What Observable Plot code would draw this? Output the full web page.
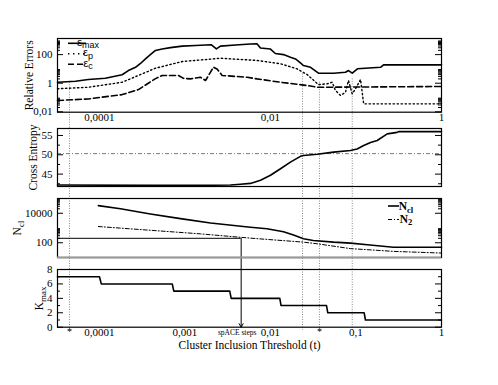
<!DOCTYPE html>
<html><head><meta charset="utf-8">
<script src="https://cdn.jsdelivr.net/npm/d3@7"></script>
<script src="https://cdn.jsdelivr.net/npm/@observablehq/plot@0.6"></script>
<style>
html,body{margin:0;padding:0;background:#fff;}
#chart{position:relative;width:498px;height:385px;background:#fff;overflow:hidden;}
#chart svg{position:absolute;left:0;overflow:visible;background:transparent;}
</style></head><body><div id="chart"></div>
<script>
// ---------- data ----------
const tDomain = [3.23e-5, 1];
// Panel 1: relative errors
const emaxT = [3.23e-5,5.24e-5,7.4e-5,1.17e-4,1.84e-4,2.18e-4,2.64e-4,3.02e-4,3.45e-4,3.94e-4,4.52e-4,5.41e-4,6.76e-4,9.3e-4,1.33e-3,1.74e-3,2.04e-3,2.33e-3,2.6e-3,3.9e-3,5.83e-3,6.98e-3,7.64e-3,0.01,0.0114,0.0142,0.0171,0.0196,0.0224,0.0243,0.0294,0.0364,0.0546,0.0753,0.0817,0.0904,0.104,0.194,0.21,1];
const emaxV = [1.17,1.38,1.8,2.2,3.9,7.7,13,24,50,100,195,250,310,390,430,470,480,250,390,470,550,560,290,245,120,100,66,50,26,17.3,13,5,5,5.9,7.7,5,10.2,13,19.3,19.3];
const epT = [3.23e-5,7.4e-5,1.84e-4,2.86e-4,4.52e-4,9.3e-4,1.74e-3,2.6e-3,6.98e-3,0.0131,0.0205,0.0269,0.0364,0.046,0.0527,0.0575,0.0659,0.0753,0.0817,0.0904,0.0986,0.113,0.123,1];
const epV = [0.41,0.52,1.17,3.5,11.2,33,45,56,39,23,10,4,0.8,0.91,1.17,0.31,0.14,0.23,1.55,0.18,0.41,1.82,0.036,0.036];
const ecT = [3.23e-5,7.4e-5,1.84e-4,2.86e-4,3.73e-4,4.52e-4,5.41e-4,8.4e-4,9.6e-4,1.16e-3,1.52e-3,1.74e-3,1.99e-3,2.15e-3,2.37e-3,2.72e-3,5.35e-3,6.98e-3,0.0131,0.0269,0.0352,1];
const ecV = [0.062,0.079,0.16,0.36,1.0,2.1,3.5,3.5,2.2,2.0,2.6,1.55,5.9,13.2,10,3.5,2.6,2.0,1.17,0.69,0.52,0.59];
const errDomain = [0.0094, 1340];
const errMajor = [0.01, 1, 100];
const legend1Labels = ["ε_max", "ε_p", "ε_c"];
// Panel 2: cross entropy
const ceT = [3.23e-5,3.94e-4,1.52e-3,3.4e-3,4.45e-3,5.83e-3,7.64e-3,0.01,0.0131,0.0171,0.0224,0.0243,0.0352,0.0546,0.0863,0.103,0.123,0.148,0.177,0.232,0.303,0.317,1];
const ceV = [42.2,42.1,42.1,42.2,42.4,42.6,43.4,44.7,46.4,48.1,49.6,49.8,50.15,50.7,51.1,51.5,52.4,53.2,53.7,55.4,55.8,56.0,56.0];
const ceRef = [50.3];
const ceDomain = [41.8, 56.8];
const ceMajor = [45, 50, 55];
const ceMinor = [42.5, 47.5, 52.5];
// Panel 3: cluster counts
const nclT = [9.7e-5,1.76e-4,3.94e-4,8.85e-4,1.99e-3,5.83e-3,9.1e-3,0.0142,0.0186,0.0243,0.0316,0.0546,0.0863,0.136,0.274,1];
const nclV = [33000,20000,9000,4300,2200,1120,880,560,330,185,143,110,94,73,50,50];
const n2T = [9.7e-5,3.94e-4,1.52e-3,5.83e-3,0.0243,0.0352,0.0863,0.275,1];
const n2V = [1260,700,400,205,110,85,40,26,20];
const nDomain = [10, 100000];
const nMajor = [100, 10000];
const legend3Labels = ["N_cl", "N_2"];
// Panel 4: K_max steps
const kmaxT = [3.23e-5,1.0e-4,1.05e-4,7.1e-4,7.4e-4,3.34e-3,3.47e-3,0.01285,0.0133,0.0452,0.0468,0.1247,0.129,1];
const kmaxV = [7,7,6,6,5,5,4,4,3,3,2,2,1,1];
const kDomain = [0, 8];
const kMajor = [0, 2, 4, 6, 8];
const kMinor = [1, 3, 5, 7];
// markers / annotation
const markT = [4.46e-5, 0.0237, 0.0374, 0.0904];
const markStartErr = [1.17, 4.5, 1.17, 2.0];
const starT = [4.46e-5, 0.0374];
const annT = [4.54e-3];
const annN = [200];
const annLabel = "spACE steps";
const xTicksTop = [0.0001, 0.01, 1];
const xTicksBottom = [0.0001, 0.001, 0.01, 0.1, 1];
const yTitles = ["Relative Errors", "Cross Entropy", "N_cl", "K_max"];
const xTitle = "Cluster Inclusion Threshold (t)";

// ---------- helpers ----------
const serif = "'Liberation Serif','Times New Roman',serif";
const sans = "'Liberation Sans',Arial,sans-serif";
const W = 498, ML = 57, MR = 57, PW = W - ML - MR;
const fmt = d => String(d).replace(".", ",");
const minorLog = decs => decs.flatMap(d => [2,3,4,5,6,7,8,9].map(k => k * d));
const dotted = {stroke: "#8a8a8a", strokeWidth: 1, strokeDasharray: "1,1.5"};

function yAxis(major, minor) {
  return [
    Plot.ruleY(major, {insetRight: PW - 6, stroke: "black"}),
    Plot.ruleY(major, {insetLeft: PW - 6, stroke: "black"}),
    Plot.ruleY(minor, {insetRight: PW - 3, stroke: "black"}),
    Plot.ruleY(minor, {insetLeft: PW - 3, stroke: "black"}),
    Plot.text(major, {y: d => d, text: fmt, frameAnchor: "left", textAnchor: "end", dx: -5, fontFamily: serif, fontSize: 11})
  ];
}
function yTitle(label, dx) {
  return Plot.text([label], {text: d => d, frameAnchor: "left", textAnchor: "middle", lineAnchor: "middle", rotate: -90, dx, fontFamily: serif, fontSize: 11.5});
}
function panel(top, height, marginTop, marginBottom, y, marks) {
  const svg = Plot.plot({
    width: W, height, marginLeft: ML, marginRight: MR, marginTop, marginBottom,
    x: {type: "log", domain: tDomain, axis: null},
    y: {...y, axis: null},
    style: {background: "transparent", overflow: "visible", fontFamily: serif, fontSize: "11px"},
    marks
  });
  svg.style.position = "absolute";
  svg.style.top = top + "px";
  svg.style.left = "0px";
  document.getElementById("chart").appendChild(svg);
  subscripts(svg);
  return svg;
}
function subscripts(svg) {
  d3.select(svg).selectAll("text").each(function() {
    const el = d3.select(this);
    if (el.selectAll("tspan").size()) return;
    const m = /^(.*?)_(.+)$/.exec(this.textContent);
    if (!m) return;
    el.text(null);
    el.append("tspan").text(m[1]);
    el.append("tspan").attr("dy", "0.35em").attr("font-size", "78%").text(m[2]);
  });
}

// ---------- panel 1 ----------
const p1 = panel(0, 128, 38, 16.3, {type: "log", domain: errDomain}, [
  Plot.ruleX(markT, {x: markT, y1: markStartErr, y2: markT.map(() => errDomain[0]), insetBottom: -16.3, ...dotted}),
  Plot.line(emaxT, {x: emaxT, y: emaxV, stroke: "black", strokeWidth: 1.6}),
  Plot.line(epT, {x: epT, y: epV, stroke: "black", strokeWidth: 1.4, strokeDasharray: "1.4,2.6"}),
  Plot.line(ecT, {x: ecT, y: ecV, stroke: "black", strokeWidth: 1.6, strokeDasharray: "6,3"}),
  ...yAxis(errMajor, minorLog([0.01, 1, 100])),
  Plot.text(xTicksTop, {x: d => d, text: fmt, frameAnchor: "bottom", dy: 8.5, fontFamily: serif, fontSize: 11}),
  yTitle(yTitles[0], -28),
  Plot.frame({stroke: "black", strokeWidth: 1.2})
]);
{
  const g = d3.select(p1).append("g");
  const dashes = [null, "1.4,3.6", "6,3"];
  legend1Labels.forEach((lab, i) => {
    const y = 43.3 + i * 10.5;
    g.append("line").attr("x1", 68).attr("x2", 86).attr("y1", y).attr("y2", y)
      .attr("stroke", "black").attr("stroke-width", 1.6).attr("stroke-dasharray", dashes[i]);
    const [a, b] = lab.split("_");
    const t = g.append("text").attr("x", 88).attr("y", y + 2.5).attr("font-family", sans).attr("font-size", 11.5);
    t.append("tspan").text(a);
    t.append("tspan").attr("dy", 2.5).attr("font-size", 9).text(b);
  });
}

// ---------- panel 2 ----------
panel(128, 70, 0, 12, {domain: ceDomain}, [
  Plot.ruleX(markT, {insetBottom: -12, ...dotted}),
  Plot.ruleY(ceRef, {stroke: "#7a7a7a", strokeWidth: 1, strokeDasharray: "4,2,1,2"}),
  Plot.line(ceT, {x: ceT, y: ceV, stroke: "black", strokeWidth: 1.6}),
  ...yAxis(ceMajor, ceMinor),
  yTitle(yTitles[1], -24),
  Plot.frame({stroke: "black", strokeWidth: 1.2})
]);

// ---------- panel 3 ----------
const p3 = panel(198, 71, 0, 12, {type: "log", domain: nDomain}, [
  Plot.ruleX(markT, {insetBottom: -12, ...dotted}),
  Plot.ruleY(annN, {y: annN, x1: () => tDomain[0], x2: annT, stroke: "black", strokeWidth: 1}),
  Plot.ruleX(annT, {x: annT, y1: annN, y2: () => nDomain[0], insetBottom: -12, stroke: "black", strokeWidth: 1}),
  Plot.line(nclT, {x: nclT, y: nclV, stroke: "black", strokeWidth: 1.6}),
  Plot.line(n2T, {x: n2T, y: n2V, stroke: "black", strokeWidth: 1, strokeDasharray: "4,2,1,2"}),
  ...yAxis(nMajor, minorLog([100, 10000])),
  yTitle(yTitles[2], -40),
  Plot.frame({stroke: "black", strokeWidth: 1.2}),
  Plot.ruleY([nDomain[0]], {stroke: "#9a9a9a", strokeWidth: 2})
]);
{
  const g = d3.select(p3).append("g");
  const dashes = [null, "4,2,1,2"];
  const widths = [1.6, 1];
  const rows = [[8, 12], [21.5, 24.5]];
  legend3Labels.forEach((lab, i) => {
    const [ly, by] = rows[i];
    g.append("line").attr("x1", 388).attr("x2", 399).attr("y1", ly).attr("y2", ly)
      .attr("stroke", "black").attr("stroke-width", widths[i]).attr("stroke-dasharray", dashes[i]);
    const [a, b] = lab.split("_");
    const t = g.append("text").attr("x", 406).attr("y", by).attr("font-family", serif).attr("font-size", 11.5).attr("font-weight", "bold");
    t.append("tspan").text(a);
    t.append("tspan").attr("dy", 2.5).attr("font-size", 8.5).text(b);
  });
}

// ---------- panel 4 ----------
panel(269, 116, 0, 58.3, {domain: kDomain}, [
  Plot.ruleX(markT, {insetBottom: -3, ...dotted}),
  Plot.arrow(annT, {x1: annT, x2: annT, y1: () => kDomain[1], y2: () => kDomain[0], stroke: "black", strokeWidth: 1, headLength: 6}),
  Plot.line(kmaxT, {x: kmaxT, y: kmaxV, stroke: "black", strokeWidth: 1.6}),
  ...yAxis(kMajor, kMinor),
  Plot.text(xTicksBottom, {x: d => d, text: fmt, frameAnchor: "bottom", dy: 9, fontFamily: serif, fontSize: 11}),
  Plot.text(starT, {x: d => d, text: () => "*", frameAnchor: "bottom", dy: 8, fontFamily: serif, fontSize: 10}),
  Plot.text([annLabel], {x: annT, text: d => d, frameAnchor: "bottom", dy: 8, dx: -4, fontFamily: serif, fontSize: 7.5}),
  Plot.text([xTitle], {text: d => d, frameAnchor: "bottom", dy: 22, fontFamily: serif, fontSize: 11.5}),
  yTitle(yTitles[3], -18),
  Plot.frame({stroke: "black", strokeWidth: 1.2})
]);
</script></body></html>
